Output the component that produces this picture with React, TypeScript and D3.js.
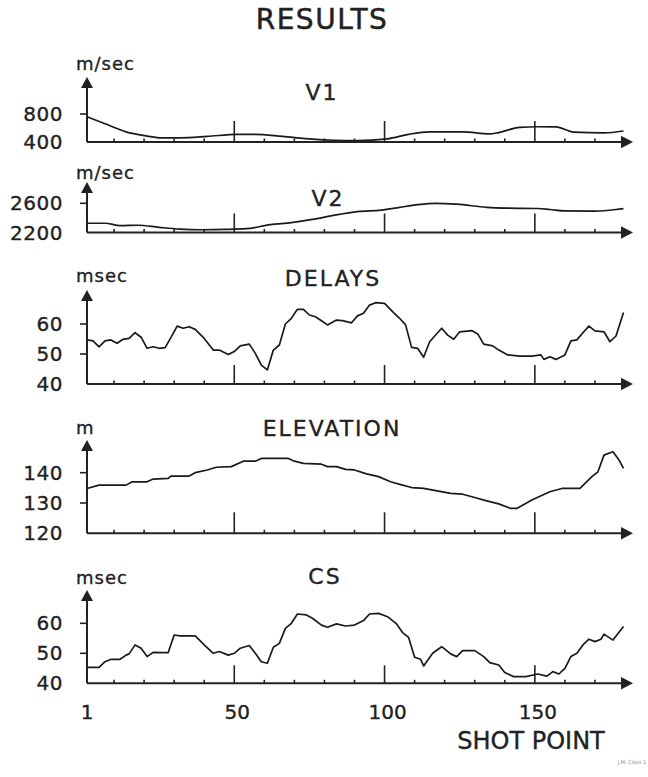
import * as d3 from 'd3';
import { useMemo } from 'react';

// shot point / value pairs
const v1Shots = [1, 7, 14, 21, 25, 32, 41, 51, 57, 66, 76, 83, 91, 101, 108, 115, 126, 135, 138, 145, 151, 157, 163, 173, 179.5];
const v1Values = [760, 660, 545, 485, 460, 460, 480, 510, 510, 480, 440, 425, 420, 445, 510, 545, 545, 515, 535, 610, 618, 615, 540, 530, 557];

const v2Shots = [1, 7, 12, 18, 25, 32, 39, 47, 54, 62, 69, 76, 83, 91, 99, 105, 111, 117, 124, 134, 141, 151, 155, 160, 170, 177, 179.5];
const v2Values = [2327, 2327, 2294, 2299, 2271, 2247, 2238, 2242, 2252, 2308, 2336, 2379, 2435, 2487, 2506, 2544, 2581, 2600, 2588, 2545, 2534, 2529, 2515, 2495, 2494, 2515, 2528];

const delayShots = [1, 3, 5, 7, 9, 11, 13, 15, 17, 19, 21, 23, 25, 27, 29, 31, 33, 35, 37, 40, 43, 45, 48, 50, 52, 55, 57, 59, 61, 63, 65, 67, 69, 71, 73, 75, 77, 79, 81, 84, 86, 89, 91, 93, 95, 97, 100, 103, 105, 107, 109, 111, 113, 115, 119, 121, 123, 125, 129, 131, 133, 136, 138, 141, 145, 149, 152, 153, 155, 157, 160, 162, 164, 166, 168, 170, 173, 175, 177, 179.5];
const delayValues = [54.7, 54.4, 52.4, 54.4, 54.7, 53.6, 54.9, 55.2, 57.1, 55.6, 51.9, 52.4, 51.9, 52.1, 55.6, 59.3, 58.6, 59.1, 58.2, 55.2, 51.3, 51.3, 49.8, 50.8, 52.7, 53.3, 50.2, 46.3, 44.7, 51.3, 53.0, 60.0, 61.9, 64.9, 64.9, 63.0, 62.4, 61.1, 59.7, 61.3, 61.1, 60.4, 62.7, 63.6, 66.3, 67.1, 66.9, 63.8, 61.9, 59.7, 52.2, 51.9, 48.9, 54.1, 58.6, 56.3, 54.9, 57.4, 57.8, 56.7, 53.3, 52.7, 51.3, 49.7, 49.3, 49.3, 49.7, 48.2, 49.1, 48.2, 49.7, 54.4, 54.7, 57.1, 59.3, 57.7, 57.4, 54.1, 56.0, 63.8];

const elevShots = [1, 5, 14, 16, 21, 23, 28, 29, 35, 37, 41, 44, 49, 53, 57, 59, 68, 70, 73, 79, 81, 84, 87, 90, 94, 98, 102, 106, 109, 113, 117, 122, 126, 130, 134, 138, 142, 144, 149, 155, 159, 165, 169, 171, 173, 176, 178, 179.5];
const elevValues = [134.8, 135.9, 135.9, 137.0, 137.0, 137.9, 138.1, 138.9, 138.9, 140.0, 140.9, 141.8, 142.0, 143.8, 143.8, 144.7, 144.7, 143.8, 143.1, 142.8, 142.0, 142.0, 141.1, 140.9, 139.6, 138.7, 137.0, 135.9, 135.1, 134.8, 134.1, 133.2, 132.9, 131.8, 130.7, 129.7, 128.2, 128.2, 131.0, 133.7, 134.8, 134.8, 138.7, 140.3, 145.8, 146.9, 144.2, 141.4];

const csShots = [1, 5, 7, 9, 12, 14, 15, 17, 19, 21, 23, 26, 28, 30, 32, 34, 37, 40, 43, 45, 48, 50, 52, 55, 57, 59, 61, 63, 65, 67, 69, 71, 74, 76, 79, 81, 84, 87, 90, 93, 95, 98, 101, 104, 106, 108, 110, 112, 113, 116, 119, 122, 124, 126, 130, 133, 135, 138, 140, 143, 147, 151, 154, 156, 158, 160, 162, 164, 166, 168, 170, 172, 173, 176, 179.5];
const csValues = [45.3, 45.3, 47.2, 48.0, 48.0, 49.4, 49.8, 52.8, 51.7, 48.9, 50.3, 50.2, 50.2, 56.1, 55.8, 55.8, 55.8, 52.8, 50.0, 50.6, 49.4, 50.0, 51.7, 52.6, 50.0, 47.2, 46.7, 52.0, 53.3, 58.3, 60.0, 63.1, 62.8, 61.7, 59.4, 58.7, 59.8, 59.1, 59.4, 60.9, 63.1, 63.3, 62.2, 59.8, 56.9, 55.3, 48.7, 48.0, 45.8, 50.0, 52.2, 49.8, 48.9, 50.9, 50.9, 48.9, 46.9, 46.1, 43.6, 42.2, 42.2, 43.1, 42.4, 43.9, 43.1, 45.0, 48.9, 50.0, 52.8, 54.7, 53.9, 54.7, 56.4, 54.4, 58.9];

const minorTicks = d3.range(10, 190, 10).filter((t) => t % 50 !== 0);
const majorTicks = [50, 100, 150];
const shotLabels = ['1', '50', '100', '150'];
const shotLabelAt = [1, 50, 100, 150];

const INK = '#222';
const FONT = 'DejaVu Sans, Verdana, sans-serif';
// the hand lettering is a bit heavier than the regular face
const TEXT_STYLE = { fill: INK, stroke: INK, strokeWidth: 0.35, fontFamily: FONT };

type Panel = {
  title: string;
  unit: string;
  shots: number[];
  values: number[];
  domain: [number, number];
  yRange: [number, number];
  ticks: number[];
  tipY: number;
  titleX: number;
  titleY: number;
  unitY: number;
  majorLen: number;
  smooth: boolean;
};

const panels: Panel[] = [
  { title: 'V1', unit: 'm/sec', shots: v1Shots, values: v1Values, domain: [400, 800], yRange: [142, 114], ticks: [400, 800], tipY: 77, titleX: 322, titleY: 92, unitY: 63, majorLen: 21, smooth: true },
  { title: 'V2', unit: 'm/sec', shots: v2Shots, values: v2Values, domain: [2200, 2600], yRange: [232.5, 203.3], ticks: [2200, 2600], tipY: 182, titleX: 328, titleY: 198, unitY: 172, majorLen: 19, smooth: true },
  { title: 'DELAYS', unit: 'msec', shots: delayShots, values: delayValues, domain: [40, 60], yRange: [384, 324], ticks: [40, 50, 60], tipY: 290, titleX: 333, titleY: 278, unitY: 275, majorLen: 19, smooth: false },
  { title: 'ELEVATION', unit: 'm', shots: elevShots, values: elevValues, domain: [120, 140], yRange: [533.3, 472.7], ticks: [120, 130, 140], tipY: 440, titleX: 332, titleY: 428, unitY: 427, majorLen: 21, smooth: false },
  { title: 'CS', unit: 'msec', shots: csShots, values: csValues, domain: [40, 60], yRange: [683.3, 623.3], ticks: [40, 50, 60], tipY: 590, titleX: 325, titleY: 576, unitY: 577, majorLen: 18, smooth: false },
];

function PanelPlot({ p, x }: { p: Panel; x: d3.ScaleLinear<number, number> }) {
  const y = d3.scaleLinear().domain(p.domain).range(p.yRange);
  const base = y(p.domain[0]);
  const x0 = x(1);
  const xEnd = 633;

  const path = useMemo(() => {
    const line = d3
      .line<number>()
      .x((_, i) => x(p.shots[i]))
      .y((d) => y(d))
      .curve(p.smooth ? d3.curveMonotoneX : d3.curveLinear);
    return line(p.values);
  }, [p]);

  return (
    <g>
      {/* axes */}
      <line x1={x0} x2={xEnd - 10} y1={base} y2={base} stroke={INK} strokeWidth={2} />
      <path d={`M${xEnd},${base} L${xEnd - 12},${base - 6.3} L${xEnd - 12},${base + 6.3} Z`} fill={INK} />
      <line x1={x0} x2={x0} y1={base} y2={p.tipY + 8} stroke={INK} strokeWidth={2} />
      <path d={`M${x0},${p.tipY} L${x0 - 6},${p.tipY + 11} L${x0 + 6},${p.tipY + 11} Z`} fill={INK} />

      {minorTicks.map((t) => (
        <line key={t} x1={x(t)} x2={x(t)} y1={base} y2={base - 3.5} stroke={INK} strokeWidth={1.6} />
      ))}
      {majorTicks.map((t) => (
        <line key={t} x1={x(t)} x2={x(t)} y1={base} y2={base - p.majorLen} stroke={INK} strokeWidth={1.6} />
      ))}

      {p.ticks.map((t, i) => (
        <g key={t}>
          {i > 0 && <line x1={x0 - 7} x2={x0} y1={y(t)} y2={y(t)} stroke={INK} strokeWidth={1.6} />}
          <text x={63} y={y(t)} textAnchor='end' dominantBaseline='central' fontSize={20} letterSpacing={0.5} {...TEXT_STYLE}>
            {t}
          </text>
        </g>
      ))}

      <text x={76} y={p.unitY} dominantBaseline='central' fontSize={18} letterSpacing={1} {...TEXT_STYLE}>
        {p.unit}
      </text>
      <text x={p.titleX} y={p.titleY} textAnchor='middle' dominantBaseline='central' fontSize={22} letterSpacing={2} {...TEXT_STYLE}>
        {p.title}
      </text>

      <path d={path ?? 'M0 0'} fill='none' stroke='#1a1a1a' strokeWidth={1.7} strokeLinejoin='round' />
    </g>
  );
}

export default function App() {
  const x = d3.scaleLinear().domain([1, 180]).range([87, 625]);

  return (
    <svg width={648} height={777} style={{ position: 'absolute', left: 0, top: 0, background: '#fff' }}>
      <rect width={648} height={777} fill='#fff' />
      <text x={322} y={19} textAnchor='middle' dominantBaseline='central' fontSize={28} letterSpacing={1.5} {...TEXT_STYLE} strokeWidth={0.5}>
        RESULTS
      </text>

      {panels.map((p) => (
        <PanelPlot key={p.title} p={p} x={x} />
      ))}

      {shotLabels.map((s, i) => (
        <text
          key={s}
          x={x(shotLabelAt[i]) + (i === 0 ? 0 : 3)}
          y={712}
          textAnchor='middle'
          dominantBaseline='central'
          fontSize={20}
          {...TEXT_STYLE}
        >
          {s}
        </text>
      ))}
      <text x={531} y={741} textAnchor='middle' dominantBaseline='central' fontSize={24} {...TEXT_STYLE}>
        SHOT POINT
      </text>
      <text x={632} y={764} textAnchor='middle' fontSize={5} fontFamily={FONT} fill='#888'>
        J.M. Cibet 1
      </text>
    </svg>
  );
}
